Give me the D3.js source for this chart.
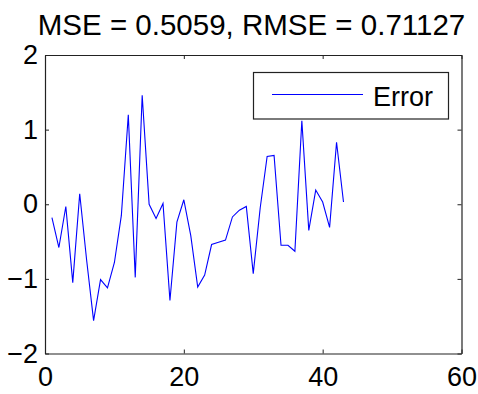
<!DOCTYPE html>
<html>
<head>
<meta charset="utf-8">
<script src="https://cdn.jsdelivr.net/npm/d3@7"></script>
<style>
  body { margin: 0; background: #fff; }
  text { font-family: "Liberation Sans", Arial, sans-serif; }
</style>
</head>
<body>
<div id="chart"></div>
<script>
// Error series, one value per sample index 1..43
const errIndex = d3.range(1, 44);
const errValues = [
  -0.18, -0.58, -0.03, -1.05, 0.14, -0.75, -1.56, -1.01, -1.12, -0.78,
  -0.15, 1.2, -0.98, 1.46, 0.0, -0.19, 0.01, -1.29, -0.24, 0.06,
  -0.42, -1.11, -0.95, -0.54, -0.51, -0.48, -0.17, -0.08, -0.03, -0.93,
  -0.05, 0.64, 0.655, -0.55, -0.55, -0.63, 1.12, -0.35, 0.19, 0.03,
  -0.31, 0.83, 0.03
];
const xTicks = [0, 20, 40, 60];
const yTicks = [-2, -1, 0, 1, 2];
const chartTitle = "MSE = 0.5059, RMSE = 0.71127";
const legendLabel = "Error";

const W = 478, H = 394;
const axLeft = 45, axRight = 461.5, axTop = 55, axBottom = 353.5;

const svg = d3.select("#chart")
   .append("svg")
   .attr("width", W)
   .attr("height", H);

const x = d3.scaleLinear()
   .domain([0, 60])
   .range([axLeft, axRight]);

const y = d3.scaleLinear()
   .domain([-2, 2])
   .range([axBottom, axTop]);

// axes with inward ticks on every side, labels only left and bottom
function styleAxis(g) {
  g.select(".domain").attr("stroke", "#222").attr("stroke-width", 1.2);
  g.selectAll(".tick line").attr("stroke", "#222");
  g.selectAll(".tick text")
   .attr("fill", "#000")
   .attr("font-size", 27)
   .attr("font-family", "'Liberation Sans', Arial, sans-serif");
}

svg.append("g")
   .attr("transform", `translate(0, ${axBottom})`)
   .call(d3.axisBottom(x).tickValues(xTicks).tickSize(-4).tickPadding(13).tickSizeOuter(0))
   .call(styleAxis);

svg.append("g")
   .attr("transform", `translate(0, ${axTop})`)
   .call(d3.axisTop(x).tickValues(xTicks).tickSize(-4).tickFormat("").tickSizeOuter(0))
   .call(styleAxis);

svg.append("g")
   .attr("transform", `translate(${axLeft}, 0)`)
   .call(d3.axisLeft(y).tickValues(yTicks).tickSize(-4).tickPadding(7).tickSizeOuter(0)
     .tickFormat(d => d < 0 ? "\u2212" + Math.abs(d) : d))
   .call(styleAxis);

svg.append("g")
   .attr("transform", `translate(${axRight}, 0)`)
   .call(d3.axisRight(y).tickValues(yTicks).tickSize(-4).tickFormat("").tickSizeOuter(0))
   .call(styleAxis);

// error line
const line = d3.line()
   .x((d, i) => x(errIndex[i]))
   .y(d => y(d));

svg.append("path")
   .datum(errValues)
   .attr("fill", "none")
   .attr("stroke", "#0000ff")
   .attr("stroke-width", 1.1)
   .attr("d", line);

// title
svg.append("text")
   .attr("x", 251.5)
   .attr("y", 35)
   .attr("text-anchor", "middle")
   .attr("font-size", 29.5)
   .attr("fill", "#000")
   .text(chartTitle);

// legend
const legend = svg.append("g");
legend.append("rect")
   .attr("x", 253.5)
   .attr("y", 72.5)
   .attr("width", 195)
   .attr("height", 46.5)
   .attr("fill", "#fff")
   .attr("stroke", "#222")
   .attr("stroke-width", 1.2);
legend.append("line")
   .attr("x1", 272)
   .attr("x2", 363)
   .attr("y1", 94.5)
   .attr("y2", 94.5)
   .attr("stroke", "#0000ff")
   .attr("stroke-width", 1);
legend.append("text")
   .attr("x", 373)
   .attr("y", 106)
   .attr("font-size", 27)
   .attr("fill", "#000")
   .text(legendLabel);
</script>
</body>
</html>
